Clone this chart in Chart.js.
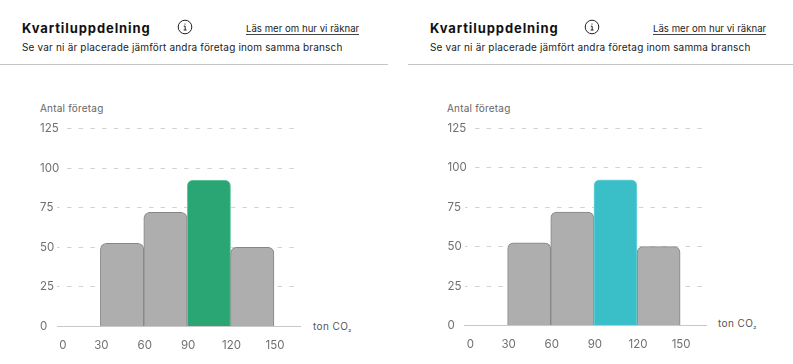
<!DOCTYPE html>
<html><head><meta charset="utf-8">
<script src="https://cdn.jsdelivr.net/npm/chart.js@4"></script>
<style>
html,body{margin:0;padding:0;background:#fff;width:793px;height:364px;overflow:hidden;font-family:Inter,sans-serif;}
.t{position:absolute;white-space:nowrap;line-height:14px;}
.title{font-size:13px;font-weight:700;letter-spacing:.9px;color:#111;}
.sub{font-size:10px;letter-spacing:.17px;color:#222;}
.link{font-size:9.6px;color:#222;border-bottom:1px solid #444;line-height:11px;letter-spacing:.02px;}
.rule{position:absolute;height:1px;background:#c4c4c4;top:64px;}
.y{font-size:10px;color:#666;letter-spacing:.2px;}
.u{font-size:10px;color:#555;letter-spacing:.4px;}
.u sub{font-size:7px;vertical-align:baseline;position:relative;top:1px;}
svg{position:absolute;}
canvas{position:absolute;}
</style></head><body>
<div class="t title" style="left:22px;top:21px">Kvartiluppdelning</div>
<svg style="left:177px;top:19px" width="16" height="16" viewBox="0 0 16 16"><circle cx="8" cy="8" r="6.8" fill="none" stroke="#222" stroke-width="1"/><path d="M6.8 7.2H8.2V11M6.6 11H9.6M8 4.6V5.6" fill="none" stroke="#222" stroke-width="1"/></svg>
<div class="t link" style="left:246px;top:23px">Läs mer om hur vi räknar</div>
<div class="t sub" style="left:22px;top:40px">Se var ni är placerade jämfört andra företag inom samma bransch</div>
<div class="rule" style="left:0;width:388px"></div>
<div class="t y" style="left:40px;top:101px">Antal företag</div>
<div class="t u" style="left:313px;top:319px">ton CO<sub>₂</sub></div>

<div class="t title" style="left:430px;top:21px">Kvartiluppdelning</div>
<svg style="left:584px;top:19px" width="16" height="16" viewBox="0 0 16 16"><circle cx="8" cy="8" r="6.8" fill="none" stroke="#222" stroke-width="1"/><path d="M6.8 7.2H8.2V11M6.6 11H9.6M8 4.6V5.6" fill="none" stroke="#222" stroke-width="1"/></svg>
<div class="t link" style="left:653px;top:23px">Läs mer om hur vi räknar</div>
<div class="t sub" style="left:430px;top:40px">Se var ni är placerade jämfört andra företag inom samma bransch</div>
<div class="rule" style="left:408px;width:385px"></div>
<div class="t y" style="left:447px;top:101px">Antal företag</div>
<div class="t u" style="left:718px;top:316px">ton CO<sub>₂</sub></div>

<canvas id="a" style="left:0;top:100px" width="400" height="264"></canvas>
<canvas id="b" style="left:400px;top:100px" width="393" height="264"></canvas>
<script>
const binCentres = [45, 75, 105, 135];
const companies = [52.5, 72, 92.5, 50];
const xMax = 168;
const yMax = 125;
const leftFill = ['#aeaeae', '#aeaeae', '#29a673', '#aeaeae'];
const leftEdge = ['#868686', '#868686', '#6fcaa5', '#868686'];
const rightFill = ['#aeaeae', '#aeaeae', '#3abfc9', '#aeaeae'];
const rightEdge = ['#868686', '#868686', '#72d6dd', '#868686'];
const dashBase = [4.5, 7.2];
const dashLate = [0, 10].concat(Array(21).fill(dashBase).flat());

const widenLabelClip = { id: 'widenLabelClip', afterLayout(c) { c.scales.y.right += 6; } };

function make(id, fill, edge, padL, padR, padT, padB) {
  new Chart(document.getElementById(id), {
    type: 'bar',
    plugins: [widenLabelClip],
    data: { datasets: [{
      data: binCentres.map((x, i) => ({ x, y: companies[i] })),
      backgroundColor: fill, borderColor: edge, borderWidth: 1,
      borderRadius: { topLeft: 6, topRight: 6, bottomLeft: 0, bottomRight: 0 },
      borderSkipped: 'bottom', barPercentage: 1, categoryPercentage: 1
    }] },
    options: {
      responsive: false, animation: false,
      layout: { padding: { left: padL, right: padR, top: padT, bottom: padB } },
      plugins: { legend: { display: false }, tooltip: { enabled: false } },
      scales: {
        x: {
          type: 'linear', min: 0, max: xMax, offset: false,
          grid: { display: false, drawTicks: false },
          border: { display: true, color: '#c8c8c8', width: 1 },
          afterFit: s => { s.height = 26; },
          ticks: { stepSize: 30, includeBounds: false, maxRotation: 0, padding: 12, labelOffset: 1, color: '#707070',
            font: { family: 'Inter', size: 11.5 },
            callback: v => v === 0 ? '\u2007\u20090' : String(v) }
        },
        y: {
          min: 0, max: yMax,
          afterFit: s => { s.width = 17; },
          grid: { color: '#d2d2d2', lineWidth: 1, drawTicks: false, tickLength: 0 },
          border: { display: false,
            dash: c => (c.tick && c.tick.value >= 100) ? dashLate : dashBase,
            dashOffset: c => (c.tick && c.tick.value >= 100) ? 0 : 1.7 },
          ticks: { stepSize: 25, crossAlign: 'far', padding: 0, color: '#707070',
            font: { family: 'Inter', size: 11.5 } }
        }
      }
    }
  });
}
make('a', leftFill, leftEdge, 40, 100, 28.5, 11.5);
make('b', rightFill, rightEdge, 47.5, 87, 28.5, 12.5);
</script>
</body></html>
